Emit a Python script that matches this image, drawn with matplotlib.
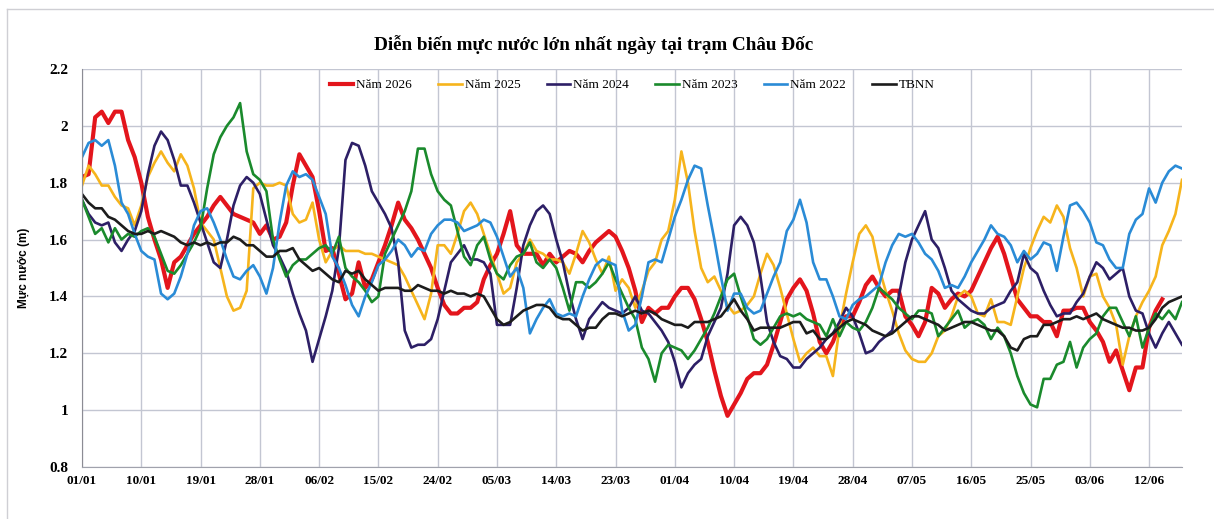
import numpy as np
import matplotlib
matplotlib.use('Agg')
from matplotlib import pyplot
import matplotlib.dates as mdates
from matplotlib.lines import Line2D

# mực nước lớn nhất ngày (m), từ 01/01
nam_2026 = [1.82, 1.83, 2.03, 2.05, 2.01, 2.05, 2.05, 1.95, 1.89, 1.80,
            1.68, 1.60, 1.53, 1.43, 1.52, 1.54, 1.58, 1.62, 1.65, 1.68,
            1.72, 1.75, 1.72, 1.69, 1.68, 1.67, 1.66, 1.62, 1.65, 1.60,
            1.61, 1.66, 1.79, 1.90, 1.86, 1.82, 1.70, 1.56, 1.57, 1.48,
            1.39, 1.41, 1.52, 1.43, 1.46, 1.52, 1.58, 1.65, 1.73, 1.67,
            1.64, 1.60, 1.55, 1.50, 1.43, 1.37, 1.34, 1.34, 1.36, 1.36,
            1.38, 1.46, 1.51, 1.55, 1.62, 1.70, 1.58, 1.55, 1.55, 1.55,
            1.51, 1.55, 1.52, 1.54, 1.56, 1.55, 1.52, 1.56, 1.59, 1.61,
            1.63, 1.61, 1.56, 1.50, 1.42, 1.31, 1.36, 1.34, 1.36, 1.36,
            1.40, 1.43, 1.43, 1.39, 1.32, 1.24, 1.14, 1.05, 0.98, 1.02,
            1.06, 1.11, 1.13, 1.13, 1.16, 1.23, 1.31, 1.39, 1.43, 1.46,
            1.42, 1.34, 1.24, 1.20, 1.24, 1.30, 1.33, 1.33, 1.38, 1.44,
            1.47, 1.43, 1.40, 1.42, 1.42, 1.33, 1.30, 1.26, 1.31, 1.43,
            1.41, 1.36, 1.39, 1.41, 1.40, 1.42, 1.47, 1.52, 1.57, 1.61,
            1.55, 1.47, 1.39, 1.36, 1.33, 1.33, 1.31, 1.31, 1.26, 1.35,
            1.35, 1.36, 1.36, 1.31, 1.28, 1.24, 1.17, 1.21, 1.14, 1.07,
            1.15, 1.15, 1.29, 1.35, 1.39]
nam_2025 = [1.79, 1.86, 1.83, 1.79, 1.79, 1.75, 1.72, 1.71, 1.65, 1.72,
            1.82, 1.87, 1.91, 1.87, 1.84, 1.90, 1.86, 1.78, 1.66, 1.63,
            1.60, 1.50, 1.40, 1.35, 1.36, 1.42, 1.78, 1.80, 1.79, 1.79,
            1.80, 1.79, 1.69, 1.66, 1.67, 1.73, 1.60, 1.52, 1.56, 1.58,
            1.56, 1.56, 1.56, 1.55, 1.55, 1.54, 1.53, 1.52, 1.51, 1.47,
            1.42, 1.37, 1.32, 1.41, 1.58, 1.58, 1.55, 1.62, 1.70, 1.73,
            1.69, 1.62, 1.55, 1.48, 1.41, 1.43, 1.52, 1.55, 1.60, 1.56,
            1.55, 1.53, 1.53, 1.52, 1.48, 1.55, 1.63, 1.59, 1.53, 1.48,
            1.54, 1.42, 1.46, 1.43, 1.36, 1.42, 1.49, 1.52, 1.60, 1.63,
            1.74, 1.91, 1.80, 1.63, 1.50, 1.45, 1.47, 1.42, 1.37, 1.34,
            1.35, 1.37, 1.40, 1.48, 1.55, 1.51, 1.43, 1.34, 1.25, 1.17,
            1.20, 1.22, 1.19, 1.19, 1.12, 1.29, 1.41, 1.52, 1.62, 1.65,
            1.61, 1.50, 1.42, 1.35, 1.27, 1.21, 1.18, 1.17, 1.17, 1.20,
            1.26, 1.28, 1.33, 1.40, 1.42, 1.40, 1.34, 1.33, 1.39, 1.31,
            1.31, 1.30, 1.40, 1.50, 1.57, 1.63, 1.68, 1.66, 1.72, 1.68,
            1.57, 1.50, 1.40, 1.47, 1.48, 1.40, 1.36, 1.30, 1.16, 1.26,
            1.33, 1.38, 1.42, 1.47, 1.58, 1.63, 1.69, 1.81]
nam_2024 = [1.74, 1.69, 1.66, 1.65, 1.66, 1.59, 1.56, 1.60, 1.63, 1.70,
            1.83, 1.93, 1.98, 1.95, 1.88, 1.79, 1.79, 1.73, 1.66, 1.59,
            1.52, 1.50, 1.60, 1.72, 1.79, 1.82, 1.80, 1.76, 1.67, 1.58,
            1.54, 1.49, 1.41, 1.34, 1.28, 1.17, 1.25, 1.33, 1.42, 1.57,
            1.88, 1.94, 1.93, 1.86, 1.77, 1.73, 1.69, 1.64, 1.52, 1.28,
            1.22, 1.23, 1.23, 1.25, 1.32, 1.42, 1.52, 1.55, 1.58, 1.53,
            1.53, 1.52, 1.48, 1.30, 1.30, 1.30, 1.43, 1.58, 1.65, 1.70,
            1.72, 1.69, 1.60, 1.52, 1.41, 1.32, 1.25, 1.32, 1.35, 1.38,
            1.36, 1.35, 1.34, 1.36, 1.40, 1.35, 1.34, 1.31, 1.28, 1.24,
            1.17, 1.08, 1.13, 1.16, 1.18, 1.26, 1.31, 1.36, 1.48, 1.65,
            1.68, 1.65, 1.59, 1.47, 1.31, 1.24, 1.19, 1.18, 1.15, 1.15,
            1.18, 1.20, 1.22, 1.25, 1.27, 1.31, 1.36, 1.33, 1.27, 1.20,
            1.21, 1.24, 1.26, 1.28, 1.40, 1.52, 1.60, 1.65, 1.70, 1.60,
            1.57, 1.50, 1.42, 1.39, 1.37, 1.35, 1.34, 1.34, 1.36, 1.37,
            1.38, 1.42, 1.45, 1.55, 1.50, 1.48, 1.42, 1.37, 1.33, 1.34,
            1.34, 1.38, 1.41, 1.47, 1.52, 1.50, 1.46, 1.48, 1.50, 1.40,
            1.35, 1.34, 1.27, 1.22, 1.27, 1.31, 1.27, 1.23]
nam_2023 = [1.74, 1.68, 1.62, 1.64, 1.59, 1.64, 1.60, 1.62, 1.61, 1.63,
            1.64, 1.61, 1.55, 1.49, 1.48, 1.51, 1.55, 1.59, 1.64, 1.78,
            1.90, 1.96, 2.00, 2.03, 2.08, 1.91, 1.83, 1.81, 1.77, 1.60,
            1.53, 1.47, 1.51, 1.53, 1.53, 1.55, 1.57, 1.58, 1.55, 1.61,
            1.50, 1.47, 1.45, 1.42, 1.38, 1.40, 1.55, 1.60, 1.65, 1.70,
            1.77, 1.92, 1.92, 1.83, 1.77, 1.74, 1.72, 1.63, 1.54, 1.51,
            1.58, 1.61, 1.53, 1.48, 1.46, 1.51, 1.54, 1.55, 1.59, 1.52,
            1.50, 1.53, 1.50, 1.43, 1.35, 1.45, 1.45, 1.43, 1.45, 1.48,
            1.52, 1.46, 1.41, 1.36, 1.32, 1.22, 1.18, 1.10, 1.20, 1.23,
            1.22, 1.21, 1.18, 1.21, 1.25, 1.29, 1.34, 1.40, 1.46, 1.48,
            1.40, 1.33, 1.25, 1.23, 1.25, 1.29, 1.33, 1.34, 1.33, 1.34,
            1.32, 1.31, 1.30, 1.26, 1.32, 1.26, 1.31, 1.29, 1.28, 1.31,
            1.36, 1.43, 1.41, 1.39, 1.36, 1.34, 1.32, 1.35, 1.35, 1.34,
            1.26, 1.29, 1.32, 1.35, 1.29, 1.31, 1.32, 1.30, 1.25, 1.29,
            1.26, 1.20, 1.12, 1.06, 1.02, 1.01, 1.11, 1.11, 1.16, 1.17,
            1.24, 1.15, 1.22, 1.25, 1.27, 1.33, 1.36, 1.36, 1.31, 1.26,
            1.33, 1.22, 1.29, 1.34, 1.32, 1.35, 1.32, 1.38]
nam_2022 = [1.89, 1.94, 1.95, 1.93, 1.95, 1.86, 1.73, 1.69, 1.62, 1.56,
            1.54, 1.53, 1.41, 1.39, 1.41, 1.47, 1.55, 1.65, 1.70, 1.71,
            1.66, 1.60, 1.53, 1.47, 1.46, 1.49, 1.51, 1.47, 1.41, 1.50,
            1.66, 1.79, 1.84, 1.82, 1.83, 1.81, 1.75, 1.69, 1.54, 1.50,
            1.44, 1.37, 1.33, 1.40, 1.45, 1.51, 1.53, 1.56, 1.60, 1.58,
            1.54, 1.57, 1.56, 1.62, 1.65, 1.67, 1.67, 1.66, 1.63, 1.64,
            1.65, 1.67, 1.66, 1.61, 1.54, 1.47, 1.50, 1.43, 1.27, 1.32,
            1.36, 1.39, 1.34, 1.33, 1.34, 1.33, 1.40, 1.46, 1.51, 1.53,
            1.52, 1.51, 1.35, 1.28, 1.30, 1.40, 1.52, 1.53, 1.52, 1.60,
            1.68, 1.74, 1.81, 1.86, 1.85, 1.72, 1.60, 1.47, 1.35, 1.41,
            1.41, 1.36, 1.34, 1.35, 1.41, 1.47, 1.52, 1.63, 1.67, 1.74,
            1.66, 1.52, 1.46, 1.46, 1.40, 1.33, 1.32, 1.37, 1.39, 1.40,
            1.42, 1.44, 1.52, 1.58, 1.62, 1.61, 1.62, 1.59, 1.55, 1.53,
            1.49, 1.43, 1.44, 1.43, 1.47, 1.52, 1.56, 1.60, 1.65, 1.62,
            1.61, 1.58, 1.52, 1.56, 1.53, 1.55, 1.59, 1.58, 1.49, 1.61,
            1.72, 1.73, 1.70, 1.66, 1.59, 1.58, 1.53, 1.50, 1.50, 1.62,
            1.67, 1.69, 1.78, 1.73, 1.80, 1.84, 1.86, 1.85]
tbnn = [1.76, 1.73, 1.71, 1.71, 1.68, 1.67, 1.65, 1.63, 1.62, 1.62,
        1.63, 1.62, 1.63, 1.62, 1.61, 1.59, 1.58, 1.59, 1.58, 1.59,
        1.58, 1.59, 1.59, 1.61, 1.60, 1.58, 1.58, 1.56, 1.54, 1.54,
        1.56, 1.56, 1.57, 1.53, 1.51, 1.49, 1.50, 1.48, 1.46, 1.45,
        1.49, 1.48, 1.49, 1.46, 1.44, 1.42, 1.43, 1.43, 1.43, 1.42,
        1.42, 1.44, 1.43, 1.42, 1.42, 1.41, 1.42, 1.41, 1.41, 1.40,
        1.41, 1.40, 1.36, 1.32, 1.30, 1.31, 1.33, 1.35, 1.36, 1.37,
        1.37, 1.36, 1.33, 1.32, 1.32, 1.30, 1.28, 1.29, 1.29, 1.32,
        1.34, 1.34, 1.33, 1.34, 1.35, 1.34, 1.35, 1.34, 1.32, 1.31,
        1.30, 1.30, 1.29, 1.31, 1.31, 1.31, 1.32, 1.33, 1.36, 1.39,
        1.35, 1.32, 1.28, 1.29, 1.29, 1.29, 1.29, 1.30, 1.31, 1.31,
        1.27, 1.28, 1.25, 1.25, 1.27, 1.29, 1.31, 1.32, 1.31, 1.30,
        1.28, 1.27, 1.26, 1.27, 1.29, 1.31, 1.33, 1.33, 1.32, 1.31,
        1.30, 1.28, 1.29, 1.30, 1.31, 1.31, 1.30, 1.29, 1.28, 1.28,
        1.26, 1.22, 1.21, 1.25, 1.26, 1.26, 1.30, 1.30, 1.31, 1.32,
        1.32, 1.33, 1.32, 1.33, 1.34, 1.32, 1.31, 1.30, 1.29, 1.29,
        1.28, 1.28, 1.29, 1.32, 1.36, 1.38, 1.39, 1.40]

dates = np.arange(np.datetime64('2026-01-01'), np.datetime64('2026-01-01') + len(tbnn))

series = [
    ('Năm 2026', nam_2026, '#e3151c', 3.0),
    ('Năm 2025', nam_2025, '#f6b41c', 1.9),
    ('Năm 2024', nam_2024, '#2d1f66', 1.9),
    ('Năm 2023', nam_2023, '#1a8a2c', 1.9),
    ('Năm 2022', nam_2022, '#2a8bd6', 1.9),
    ('TBNN', tbnn, '#1c1c1c', 1.9),
]

serif = 'Liberation Serif'

fig = pyplot.figure(figsize=(12.14, 5.19), dpi=100)
ax = fig.add_axes([82 / 1214, 52 / 519, 1100 / 1214, 398 / 519])

for name, vals, color, lw in series:
    ax.plot(dates[:len(vals)], vals, color=color, linewidth=lw, label=name)

ax.set_ylim(0.8, 2.2)
ax.set_yticks(np.arange(0.8, 2.21, 0.2))
ax.set_yticklabels(['0.8', '1', '1.2', '1.4', '1.6', '1.8', '2', '2.2'])
ax.set_xlim(dates[0], dates[-1])
ax.set_xticks(dates[::9])
ax.xaxis.set_major_formatter(mdates.DateFormatter('%d/%m'))

for lab in ax.get_yticklabels():
    lab.set_fontfamily(serif)
    lab.set_fontweight('bold')
    lab.set_fontsize(11)
for lab in ax.get_xticklabels():
    lab.set_fontfamily(serif)
    lab.set_fontweight('bold')
    lab.set_fontsize(9.5)
ax.tick_params(axis='both', length=0)
ax.tick_params(axis='y', pad=10)
ax.tick_params(axis='x', pad=6)

ax.grid(True, color='#c3c6d2', linewidth=1.0)
ax.set_axisbelow(True)
for side in ['top', 'right']:
    ax.spines[side].set_visible(False)
ax.spines['left'].set_color('#8c8c94')
ax.spines['bottom'].set_color('#a0a2ac')

ax.set_ylabel('Mực nước (m)', fontfamily='Liberation Sans', fontweight='bold',
              fontsize=8.5, labelpad=14)

fig.text(594 / 1214, 1 - 45 / 519, 'Diễn biến mực nước lớn nhất ngày tại trạm Châu Đốc',
         ha='center', va='center', fontfamily=serif, fontweight='bold', fontsize=13.8)

leg = ax.legend(loc='upper center', bbox_to_anchor=(0.5, 1.005), ncol=6, frameon=False,
                prop={'family': serif, 'size': 9.5}, handlelength=1.8,
                columnspacing=2.0, handletextpad=0.2)

# khung ngoài của biểu đồ
fig.add_artist(Line2D([7 / 1214, 7 / 1214], [0, 1 - 9 / 519], color='#cfcfd4', linewidth=1.0))
fig.add_artist(Line2D([7 / 1214, 1], [1 - 9 / 519, 1 - 9 / 519], color='#cfcfd4', linewidth=1.0))

pyplot.savefig('out.png', dpi=100)
